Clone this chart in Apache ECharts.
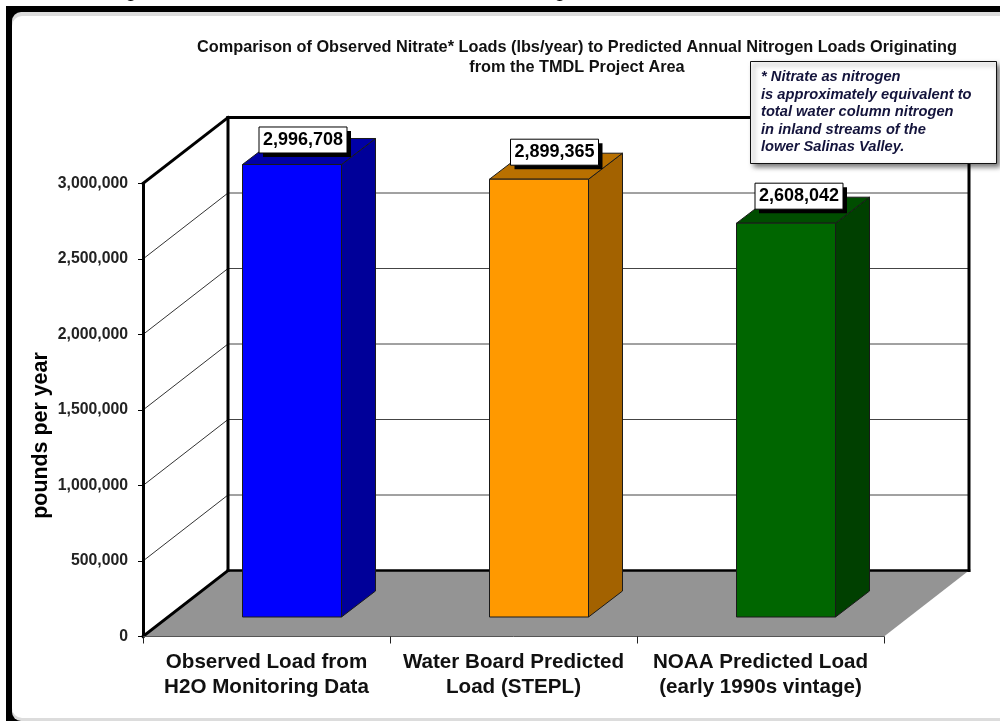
<!DOCTYPE html>
<html>
<head>
<meta charset="utf-8">
<style>html,body{margin:0;padding:0;background:#fff}#c{width:1000px;height:721px}</style>
<script src="https://cdn.jsdelivr.net/npm/echarts@6/dist/echarts.min.js"></script>
</head>
<body>
<div id="c"></div>
<script>
const categories = ['Observed Load from\nH2O Monitoring Data', 'Water Board Predicted\nLoad (STEPL)', 'NOAA Predicted Load\n(early 1990s vintage)'];
const loads = [2996708, 2899365, 2608042];
const frontColors = ['#0000ff', '#ff9900', '#006600'];
const sideColors = ['#000099', '#a36200', '#004000'];
const topColors = ['#0000a6', '#b87000', '#004d00'];
const yTicks = [500000, 1000000, 1500000, 2000000, 2500000, 3000000];
const titleLines = 'Comparison of Observed Nitrate* Loads (lbs/year) to Predicted Annual Nitrogen Loads Originating\nfrom the TMDL Project Area';
const noteLines = '* Nitrate as nitrogen\nis approximately equivalent to\ntotal water column nitrogen\nin inland streams of the\nlower Salinas Valley.';
const yAxisTitle = 'pounds per year';
const FONT = '"Liberation Sans", Arial, sans-serif';

// 3-D projection, in pixels
const WALL_DX = 85, WALL_DY = 66;
const BAR_DX = 34, BAR_DY = 26;
const BAR_OFF_X = 25.5, BAR_OFF_Y = 19.5;
const BAR_RATIO = 99 / 247;
const LABEL_NUDGE = [[11, -24.5], [15.5, -27], [13, -27]];

function fmt(v) { return v.toLocaleString('en-US'); }
function line(x1, y1, x2, y2, stroke, w) {
  return { type: 'line', shape: { x1, y1, x2, y2 }, style: { stroke, lineWidth: w, lineCap: 'square' } };
}
function poly(points, fill, stroke) {
  return { type: 'polygon', shape: { points }, style: { fill, stroke: stroke || fill, lineWidth: stroke ? 1 : 0, lineJoin: 'miter' } };
}

function renderWalls(params, api) {
  const cs = params.coordSys;
  if (params.dataIndex !== 0) return null;
  const x0 = cs.x, x1 = cs.x + cs.width;
  const y0 = api.coord([0, 0])[1];
  const yTop = api.coord([0, yTicks[yTicks.length - 1]])[1];
  const bx0 = x0 + WALL_DX, bx1 = x1 + WALL_DX;
  const children = [];
  children.push(poly([[x0, y0], [bx0, y0 - WALL_DY], [bx1, y0 - WALL_DY], [x1, y0]], '#949494'));
  yTicks.slice(0, -1).forEach(function (t) {
    const y = api.coord([0, t])[1];
    children.push(line(x0, y, bx0, y - WALL_DY, '#333', 1));
    children.push(line(bx0, y - WALL_DY, bx1, y - WALL_DY, '#444', 1));
  });
  children.push(line(x0, y0, bx0, y0 - WALL_DY, '#000', 3));
  children.push(line(bx0, y0 - WALL_DY, bx1, y0 - WALL_DY, '#000', 2.5));
  children.push(line(x0, yTop, bx0, yTop - WALL_DY, '#000', 3));
  children.push(line(bx0, yTop - WALL_DY, bx1, yTop - WALL_DY, '#000', 3));
  children.push(line(bx0, yTop - WALL_DY, bx0, y0 - WALL_DY, '#000', 3));
  children.push(line(bx1, yTop - WALL_DY, bx1, y0 - WALL_DY, '#000', 3));
  return { type: 'group', children };
}

function renderBars(params, api) {
  const i = params.dataIndex;
  const idx = api.value(0), v = api.value(1);
  const c = api.coord([idx, v]);
  const base = api.coord([idx, 0]);
  const w = api.size([1, 0])[0] * BAR_RATIO;
  const l = c[0] - w / 2 + BAR_OFF_X, r = l + w;
  const t = c[1] - BAR_OFF_Y, b = base[1] - BAR_OFF_Y;
  const edge = '#1a1a1a';
  return { type: 'group', children: [
    poly([[r, t], [r + BAR_DX, t - BAR_DY], [r + BAR_DX, b - BAR_DY], [r, b]], sideColors[i], edge),
    poly([[l, t], [l + BAR_DX, t - BAR_DY], [r + BAR_DX, t - BAR_DY], [r, t]], topColors[i], edge),
    poly([[l, t], [r, t], [r, b], [l, b]], frontColors[i], edge)
  ] };
}

function renderLabels(params, api) {
  const i = params.dataIndex;
  const c = api.coord([api.value(0), api.value(1)]);
  const cx = c[0] + BAR_OFF_X + LABEL_NUDGE[i][0];
  const cy = c[1] - BAR_OFF_Y + LABEL_NUDGE[i][1];
  const bw = 88, bh = 26;
  return { type: 'group', children: [
    { type: 'rect', shape: { x: cx - bw / 2 + 4, y: cy - bh / 2 + 4, width: bw, height: bh }, style: { fill: '#000' } },
    { type: 'rect', shape: { x: cx - bw / 2, y: cy - bh / 2, width: bw, height: bh }, style: { fill: '#fff', stroke: '#000', lineWidth: 1 } },
    { type: 'text', x: cx, y: cy, style: { text: fmt(api.value(1)), fill: '#000', font: 'bold 18px ' + FONT, align: 'center', verticalAlign: 'middle' } }
  ] };
}

const chart = echarts.init(document.getElementById('c'), null, { renderer: 'canvas' });
chart.setOption({
  animation: false,
  backgroundColor: '#fff',
  title: {
    text: titleLines, left: 572, top: 33, textAlign: 'center',
    textStyle: { fontFamily: FONT, fontWeight: 'bold', fontSize: 16.3, lineHeight: 20, color: '#111' }
  },
  grid: { left: 143, top: 183.5, width: 741, height: 453, containLabel: false },
  xAxis: {
    type: 'category', data: categories, z: 5,
    axisLine: { lineStyle: { color: '#555', width: 1 } },
    axisTick: { show: true, alignWithLabel: false, length: 7, lineStyle: { color: '#222', width: 1 } },
    axisLabel: { fontFamily: FONT, fontWeight: 'bold', fontSize: 20.6, lineHeight: 25, color: '#111', margin: 13, interval: 0 }
  },
  yAxis: {
    type: 'value', min: 0, max: 3000000, interval: 500000, z: 5,
    splitLine: { show: false },
    axisLine: { show: true, lineStyle: { color: '#000', width: 3 } },
    axisTick: { show: true, length: 5, lineStyle: { color: '#000', width: 1 } },
    axisLabel: { fontFamily: FONT, fontWeight: 'bold', fontSize: 15.8, color: '#222', margin: 15, padding: [2, 0, 0, 0], formatter: fmt }
  },
  graphic: [
    { type: 'rect', z: -10, shape: { x: 6, y: 6, width: 994, height: 715 }, style: { fill: '#000' } },
    { type: 'rect', z: -9, shape: { x: 12, y: 12, width: 1000, height: 709, r: [9, 0, 0, 9] }, style: { fill: '#dcdcdc' } },
    { type: 'rect', z: -8, shape: { x: 12, y: 16, width: 1000, height: 702, r: [10, 0, 0, 10] }, style: { fill: '#fff' } },
    { type: 'text', z: 1, x: 131, y: 1, style: { text: 'g', fill: '#000', font: '22px ' + FONT, align: 'center', verticalAlign: 'bottom' } },
    { type: 'text', z: 1, x: 209, y: 1, style: { text: ',', fill: '#000', font: '22px ' + FONT, align: 'center', verticalAlign: 'bottom' } },
    { type: 'text', z: 1, x: 560, y: 1, style: { text: 'g', fill: '#000', font: '22px ' + FONT, align: 'center', verticalAlign: 'bottom' } },
    { type: 'text', z: 6, x: 41, y: 435.5, rotation: Math.PI / 2,
      style: { text: yAxisTitle, fill: '#000', font: 'bold 21.4px ' + FONT, align: 'center', verticalAlign: 'middle' } },
    { type: 'rect', z: 50, shape: { x: 750.5, y: 61.5, width: 246, height: 102 },
      style: { fill: '#fff', stroke: '#111', lineWidth: 1, shadowBlur: 5, shadowColor: 'rgba(0,0,0,0.55)', shadowOffsetX: 3, shadowOffsetY: 3 } },
    { type: 'text', z: 51, x: 761, y: 68.5,
      style: { text: noteLines, fill: '#14143c', font: 'italic bold 14.7px ' + FONT, lineHeight: 17.5 } }
  ],
  series: [
    { type: 'custom', z: 1, silent: true, coordinateSystem: 'cartesian2d', renderItem: renderWalls, encode: { x: 0, y: 1 },
      data: loads.map(function (v, i) { return [i, v]; }) },
    { type: 'custom', z: 10, silent: true, coordinateSystem: 'cartesian2d', renderItem: renderBars, encode: { x: 0, y: 1 },
      data: loads.map(function (v, i) { return [i, v]; }) },
    { type: 'custom', z: 20, silent: true, coordinateSystem: 'cartesian2d', renderItem: renderLabels, encode: { x: 0, y: 1 },
      data: loads.map(function (v, i) { return [i, v]; }) }
  ]
});
</script>
</body>
</html>
